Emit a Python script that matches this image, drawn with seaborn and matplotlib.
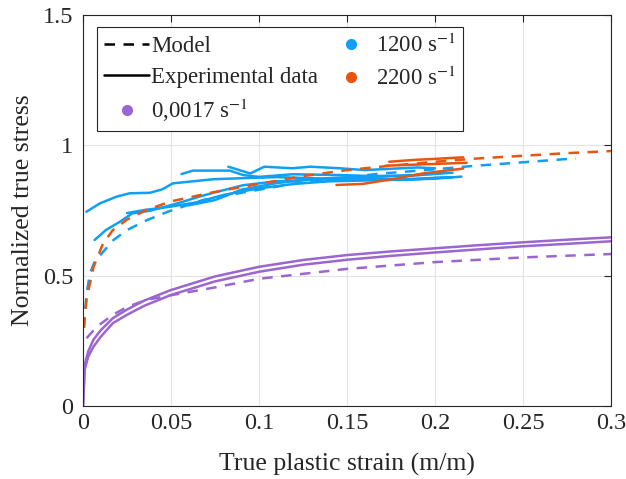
import numpy as np
import pandas as pd
import matplotlib
matplotlib.use('Agg')
import matplotlib.pyplot as plt
import seaborn as sns
from matplotlib.lines import Line2D

# colours for the three strain rates
rate_labels = ['0,0017 s$^{-1}$', '1200 s$^{-1}$', '2200 s$^{-1}$']
rate_colors = {'0,0017': '#9b66d0', '1200': '#0fa0f5', '2200': '#e8550f'}

# --- quasi-static (0,0017 1/s) ---
qs_x = [0, 0.001, 0.003, 0.006, 0.01, 0.017, 0.025, 0.035, 0.05, 0.075, 0.1,
        0.125, 0.15, 0.175, 0.2, 0.225, 0.25, 0.275, 0.3]
qs_exp1 = [0, 0.16, 0.21, 0.255, 0.29, 0.337, 0.37, 0.405, 0.445, 0.497, 0.534,
           0.56, 0.579, 0.593, 0.605, 0.617, 0.628, 0.638, 0.647]
qs_exp2 = [0, 0.14, 0.19, 0.228, 0.265, 0.318, 0.35, 0.385, 0.426, 0.478, 0.515,
           0.542, 0.561, 0.576, 0.589, 0.601, 0.613, 0.622, 0.632]
qs_model_x = [0.002, 0.006, 0.01, 0.017, 0.025, 0.036, 0.05, 0.075, 0.1, 0.15,
              0.2, 0.25, 0.3]
qs_model = [0.26, 0.29, 0.315, 0.35, 0.38, 0.407, 0.425, 0.455, 0.488, 0.526,
            0.552, 0.57, 0.583]

# --- 1200 1/s ---
r1200_model_x = [0.0005, 0.002, 0.004, 0.007, 0.01, 0.017, 0.025, 0.036, 0.048,
                 0.068, 0.09, 0.12, 0.15, 0.17, 0.2, 0.22, 0.25, 0.28]
r1200_model = [0.3, 0.43, 0.51, 0.56, 0.58, 0.635, 0.675, 0.712, 0.745,
               0.79, 0.818, 0.853, 0.878, 0.892, 0.908, 0.92, 0.935, 0.95]
r1200_exp1_x = [0.0019, 0.0095, 0.019, 0.0265, 0.038, 0.045, 0.051, 0.061, 0.074,
                0.091, 0.11, 0.13, 0.146, 0.165, 0.185, 0.2, 0.21]
r1200_exp1 = [0.745, 0.777, 0.803, 0.816, 0.818, 0.831, 0.854, 0.861, 0.87,
              0.874, 0.878, 0.874, 0.87, 0.872, 0.868, 0.875, 0.878]
r1200_exp2_x = [0.056, 0.0625, 0.074, 0.0835, 0.091, 0.1, 0.119, 0.146, 0.165,
                0.185, 0.2, 0.21]
r1200_exp2 = [0.89, 0.903, 0.903, 0.903, 0.886, 0.879, 0.889, 0.886, 0.882,
              0.885, 0.89, 0.895]
r1200_exp3_x = [0.0826, 0.095, 0.103, 0.119, 0.129, 0.146, 0.16, 0.175, 0.19, 0.2]
r1200_exp3 = [0.918, 0.892, 0.918, 0.912, 0.918, 0.912, 0.905, 0.91, 0.915, 0.912]
r1200_exp4_x = [0.0066, 0.013, 0.021, 0.028, 0.038, 0.047, 0.057, 0.066, 0.074,
                0.091, 0.11, 0.13, 0.15, 0.17, 0.19, 0.21]
r1200_exp4 = [0.637, 0.675, 0.707, 0.739, 0.749, 0.765, 0.784, 0.803, 0.818,
              0.847, 0.862, 0.868, 0.87, 0.868, 0.872, 0.878]
r1200_exp5_x = [0.025, 0.035, 0.05, 0.065, 0.08, 0.1, 0.12, 0.14, 0.16, 0.18,
                0.2, 0.215]
r1200_exp5 = [0.74, 0.752, 0.765, 0.782, 0.81, 0.835, 0.852, 0.862, 0.865,
              0.868, 0.872, 0.88]
r1200_exp6_x = [0.06, 0.075, 0.09, 0.11, 0.13, 0.15, 0.17, 0.19, 0.205]
r1200_exp6 = [0.77, 0.79, 0.83, 0.855, 0.87, 0.878, 0.88, 0.885, 0.895]

# --- 2200 1/s ---
r2200_model_x = [0.0005, 0.002, 0.006, 0.0115, 0.017, 0.025, 0.036, 0.05, 0.074,
                 0.1, 0.125, 0.15, 0.175, 0.2, 0.225, 0.25, 0.275, 0.3]
r2200_model = [0.3, 0.41, 0.534, 0.625, 0.675, 0.715, 0.752, 0.785, 0.82,
               0.852, 0.882, 0.905, 0.922, 0.937, 0.95, 0.96, 0.97, 0.978]
r2200_exp1_x = [0.144, 0.159, 0.178, 0.193, 0.216]
r2200_exp1 = [0.848, 0.852, 0.873, 0.892, 0.911]
r2200_exp2_x = [0.174, 0.188, 0.2, 0.216]
r2200_exp2 = [0.937, 0.944, 0.948, 0.954]
r2200_exp3_x = [0.172, 0.185, 0.197, 0.218]
r2200_exp3 = [0.922, 0.925, 0.928, 0.933]

curves = [
    ('0,0017', 'Experimental data', qs_x, qs_exp1),
    ('0,0017', 'Experimental data', qs_x, qs_exp2),
    ('0,0017', 'Model', qs_model_x, qs_model),
    ('1200', 'Experimental data', r1200_exp1_x, r1200_exp1),
    ('1200', 'Experimental data', r1200_exp2_x, r1200_exp2),
    ('1200', 'Experimental data', r1200_exp3_x, r1200_exp3),
    ('1200', 'Experimental data', r1200_exp4_x, r1200_exp4),
    ('1200', 'Experimental data', r1200_exp5_x, r1200_exp5),
    ('1200', 'Experimental data', r1200_exp6_x, r1200_exp6),
    ('1200', 'Model', r1200_model_x, r1200_model),
    ('2200', 'Model', r2200_model_x, r2200_model),
    ('2200', 'Experimental data', r2200_exp1_x, r2200_exp1),
    ('2200', 'Experimental data', r2200_exp2_x, r2200_exp2),
    ('2200', 'Experimental data', r2200_exp3_x, r2200_exp3),
]

rows = []
for i, (rate, kind, xs, ys) in enumerate(curves):
    for xv, yv in zip(xs, ys):
        rows.append({'strain': xv, 'stress': yv, 'rate': rate, 'kind': kind, 'curve': i})
df = pd.DataFrame(rows)

sns.set_style('white')
plt.rcParams['font.family'] = ['Liberation Serif', 'DejaVu Serif']
plt.rcParams['mathtext.fontset'] = 'stix'

fig = plt.figure(figsize=(6.26, 4.79), dpi=100)
ax = fig.add_axes([83 / 626, 1 - 406 / 479, 528 / 626, 391 / 479])

dash = (0, (4.2, 3.4))
for i, (rate, kind, xs, ys) in enumerate(curves):
    sub = df[df['curve'] == i]
    sns.lineplot(data=sub, x='strain', y='stress', estimator=None, sort=False,
                 color=rate_colors[rate], lw=1.8,
                 linestyle=dash if kind == 'Model' else '-', ax=ax, legend=False)

ax.set_xlim(0, 0.3)
ax.set_ylim(0, 1.5)
ax.set_xticks([0, 0.05, 0.1, 0.15, 0.2, 0.25, 0.3])
ax.set_xticklabels(['0', '0.05', '0.1', '0.15', '0.2', '0.25', '0.3'])
ax.set_yticks([0, 0.5, 1, 1.5])
ax.set_yticklabels(['0', '0.5', '1', '1.5'])
ax.grid(True, color='#e3e3e3', lw=0.8)
ax.set_axisbelow(True)
for s in ax.spines.values():
    s.set_color('#262626')
    s.set_linewidth(0.8)
ax.tick_params(direction='in', top=True, right=True, length=5, width=0.8,
               colors='#262626', labelsize=17.5)
ax.tick_params(axis='y', pad=7)
ax.tick_params(axis='x', pad=5)
ax.set_xlabel('True plastic strain (m/m)', fontsize=18.5, color='#262626', labelpad=14)
ax.set_ylabel('Normalized true stress', fontsize=18.5, color='#262626', labelpad=6)

handles = [
    Line2D([], [], color='black', lw=1.8, linestyle=dash),
    Line2D([], [], color='black', lw=1.8),
    Line2D([], [], color=rate_colors['0,0017'], marker='o', ms=7, lw=0),
    Line2D([], [], color=rate_colors['1200'], marker='o', ms=7, lw=0),
    Line2D([], [], color=rate_colors['2200'], marker='o', ms=7, lw=0),
]
labels = ['Model', 'Experimental data'] + rate_labels
leg = ax.legend(handles, labels, ncol=2, loc='upper left',
                bbox_to_anchor=(0.026, 0.9685), borderaxespad=0,
                fontsize=16.5, handlelength=2.0, handletextpad=0.08,
                columnspacing=0.45, labelspacing=0.4, borderpad=0.3,
                frameon=True, fancybox=False, framealpha=1)
leg.get_frame().set_edgecolor('#262626')
leg.get_frame().set_linewidth(0.8)

fig.savefig('out.png', dpi=100)
